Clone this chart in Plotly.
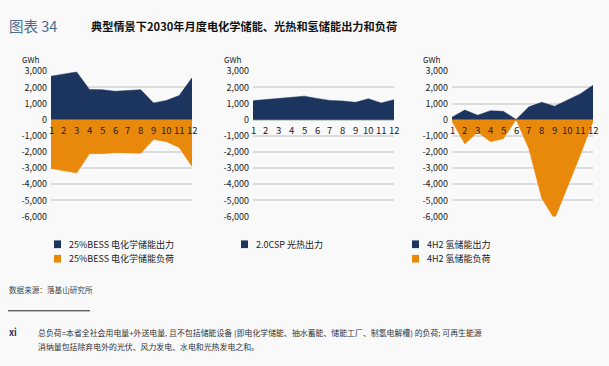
import plotly.graph_objects as go

months = list(range(1, 13))
month_labels = [str(m) for m in months]

bess_output = [2700, 2840, 2960, 1880, 1860, 1760, 1800, 1860, 1040, 1200, 1500, 2600]
bess_load = [-3020, -3160, -3300, -2100, -2100, -2040, -2040, -2080, -1220, -1360, -1720, -2900]
csp_output = [1180, 1240, 1300, 1400, 1460, 1320, 1200, 1160, 1080, 1300, 1040, 1240]
h2_output = [160, 600, 280, 560, 520, 20, 800, 1080, 840, 1240, 1600, 2140]
h2_load = [-100, -1500, -760, -1360, -1180, 0, -1800, -4870, -6160, -4200, -2200, -120]

y_ticks = [3000, 2000, 1000, 0, -1000, -2000, -3000, -4000, -5000, -6000]
y_ticklabels = ["3,000", "2,000", "1,000", "0", "-1,000", "-2,000", "-3,000", "-4,000", "-5,000", "-6,000"]

legend_names = [
    ["25%BESS 电化学储能出力", "25%BESS 电化学储能负荷"],
    ["2.0CSP 光热出力"],
    ["4H2 氢储能出力", "4H2 氢储能负荷"],
]

NAVY = "#1c355e"
ORANGE = "#e8890c"
BG = "#f9f9f9"
FONT = "Noto Sans CJK SC"

W, H = 609, 366
panels_px = [(51, 192), (253, 394), (452, 593)]
y_top, y_bot = 66.7, 217.3

fig = go.Figure()

series = [
    [(bess_output, NAVY), (bess_load, ORANGE)],
    [(csp_output, NAVY)],
    [(h2_output, NAVY), (h2_load, ORANGE)],
]

for i, panel in enumerate(series):
    ax = "" if i == 0 else str(i + 1)
    for (vals, col), name in zip(panel, legend_names[i]):
        fig.add_trace(go.Scatter(
            x=months, y=vals, mode="lines", fill="tozeroy",
            line=dict(color=col, width=0.5), fillcolor=col,
            name=name, showlegend=False,
            xaxis="x" + ax, yaxis="y" + ax,
        ))
    x0, x1 = panels_px[i]
    fig.update_layout(**{
        "xaxis" + ax: dict(
            domain=[x0 / W, x1 / W], range=[1, 12],
            showticklabels=False, showgrid=False, zeroline=False,
            fixedrange=True,
        ),
        "yaxis" + ax: dict(
            domain=[1 - y_bot / H, 1 - y_top / H], range=[-6000, 3000],
            tickvals=y_ticks, ticktext=y_ticklabels,
            showgrid=True, gridcolor="#dcdcdc", gridwidth=1.6,
            zeroline=True, zerolinecolor="#cfcfcf", zerolinewidth=1.6,
            tickfont=dict(family=FONT, size=9, color="#222222"),
            ticklabelstandoff=3, anchor="x" + ax, fixedrange=True,
        ),
    })
    # category labels sitting on the zero line
    for m, lab in zip(months, month_labels):
        fig.add_annotation(
            x=m, y=0, xref="x" + ax, yref="y" + ax, text=lab,
            showarrow=False, yshift=-10, yanchor="middle",
            font=dict(family=FONT, size=9.5, color="#222222"),
        )
    # unit label
    fig.add_annotation(
        x=(x0 - 20) / W, y=1 - 54 / H, xref="paper", yref="paper", text="GWh",
        showarrow=False, xanchor="center", yanchor="middle",
        font=dict(family=FONT, size=8, color="#222222"),
    )

# legends (custom squares + text)
legend_cols = [(54, 67), (241, 254), (412, 425)]
legend_rows = [246, 261]
colors_by_panel = [[NAVY, ORANGE], [NAVY], [NAVY, ORANGE]]
for i, names in enumerate(legend_names):
    sx, tx = legend_cols[i]
    for j, name in enumerate(names):
        yc = legend_rows[j]
        fig.add_shape(type="rect", xref="paper", yref="paper",
                      x0=sx / W, x1=(sx + 7) / W,
                      y0=1 - (yc + 4) / H, y1=1 - (yc - 4) / H,
                      fillcolor=colors_by_panel[i][j], line=dict(width=0))
        fig.add_annotation(x=tx / W, y=1 - yc / H, xref="paper", yref="paper",
                           text=name, showarrow=False, xanchor="left", yanchor="middle",
                           font=dict(family=FONT, size=9, color="#222222"))

# titles
fig.add_annotation(x=7 / W, y=1 - 19 / H, xref="paper", yref="paper", text="图表 34",
                   showarrow=False, xanchor="left", yanchor="middle",
                   font=dict(family=FONT, size=14.5, color="#4d6c91"))
fig.add_annotation(x=89 / W, y=1 - 20 / H, xref="paper", yref="paper",
                   text="<b>典型情景下2030年月度电化学储能、光热和氢储能出力和负荷</b>",
                   showarrow=False, xanchor="left", yanchor="middle",
                   font=dict(family=FONT, size=11.2, color="#111111"))

# source
fig.add_annotation(x=7 / W, y=1 - 293 / H, xref="paper", yref="paper",
                   text="数据来源：落基山研究所", showarrow=False, xanchor="left", yanchor="middle",
                   font=dict(family=FONT, size=7.6, color="#444444"))
fig.add_shape(type="line", xref="paper", yref="paper", x0=8 / W, x1=90 / W,
              y0=1 - 315 / H, y1=1 - 315 / H, line=dict(color="#222222", width=1))
fig.add_annotation(x=7 / W, y=1 - 337 / H, xref="paper", yref="paper",
                   text="<b>xi</b>", showarrow=False, xanchor="left", yanchor="middle",
                   font=dict(family=FONT, size=9, color="#1c355e"))
fig.add_annotation(x=36 / W, y=1 - 337 / H, xref="paper", yref="paper",
                   text="总负荷=本省全社会用电量+外送电量, 且不包括储能设备 (即电化学储能、抽水蓄能、储能工厂、制氢电解槽) 的负荷; 可再生能源",
                   showarrow=False, xanchor="left", yanchor="middle",
                   font=dict(family=FONT, size=7.9, color="#333333"))
fig.add_annotation(x=36 / W, y=1 - 352 / H, xref="paper", yref="paper",
                   text="消纳量包括除弃电外的光伏、风力发电、水电和光热发电之和。",
                   showarrow=False, xanchor="left", yanchor="middle",
                   font=dict(family=FONT, size=7.9, color="#333333"))

fig.update_layout(
    width=W, height=H, margin=dict(l=0, r=0, t=0, b=0),
    paper_bgcolor=BG, plot_bgcolor=BG, showlegend=False,
    font=dict(family=FONT),
)

fig.write_html("out.html", config={"displayModeBar": False},
               post_script="document.body.style.margin='0';document.body.style.overflow='hidden';")
